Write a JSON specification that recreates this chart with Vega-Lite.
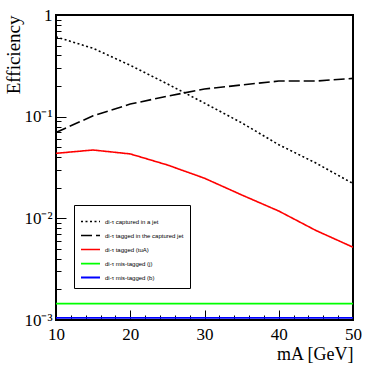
{
  "$schema": "https://vega.github.io/schema/vega-lite/v6.json",
  "width": 297,
  "height": 305,
  "autosize": "none",
  "padding": {"left": 56, "top": 15, "right": 20, "bottom": 54},
  "background": "white",
  "config": {
    "view": {"stroke": "black", "strokeWidth": 2},
    "font": "Liberation Serif"
  },
  "data": {
    "values": [
      {"m": 10, "eff": 0.61, "s": "di-τ captured in a jet"},
      {"m": 15, "eff": 0.47, "s": "di-τ captured in a jet"},
      {"m": 20, "eff": 0.32, "s": "di-τ captured in a jet"},
      {"m": 25, "eff": 0.21, "s": "di-τ captured in a jet"},
      {"m": 30, "eff": 0.136, "s": "di-τ captured in a jet"},
      {"m": 35, "eff": 0.087, "s": "di-τ captured in a jet"},
      {"m": 40, "eff": 0.053, "s": "di-τ captured in a jet"},
      {"m": 45, "eff": 0.035, "s": "di-τ captured in a jet"},
      {"m": 50, "eff": 0.022, "s": "di-τ captured in a jet"},
      {"m": 10, "eff": 0.070, "s": "di-τ tagged in the captured jet"},
      {"m": 15, "eff": 0.102, "s": "di-τ tagged in the captured jet"},
      {"m": 20, "eff": 0.133, "s": "di-τ tagged in the captured jet"},
      {"m": 25, "eff": 0.159, "s": "di-τ tagged in the captured jet"},
      {"m": 30, "eff": 0.187, "s": "di-τ tagged in the captured jet"},
      {"m": 35, "eff": 0.205, "s": "di-τ tagged in the captured jet"},
      {"m": 40, "eff": 0.224, "s": "di-τ tagged in the captured jet"},
      {"m": 45, "eff": 0.224, "s": "di-τ tagged in the captured jet"},
      {"m": 50, "eff": 0.238, "s": "di-τ tagged in the captured jet"},
      {"m": 10, "eff": 0.0436, "s": "di-τ tagged (tuA)"},
      {"m": 15, "eff": 0.047, "s": "di-τ tagged (tuA)"},
      {"m": 20, "eff": 0.043, "s": "di-τ tagged (tuA)"},
      {"m": 25, "eff": 0.0335, "s": "di-τ tagged (tuA)"},
      {"m": 30, "eff": 0.0248, "s": "di-τ tagged (tuA)"},
      {"m": 35, "eff": 0.017, "s": "di-τ tagged (tuA)"},
      {"m": 40, "eff": 0.0118, "s": "di-τ tagged (tuA)"},
      {"m": 45, "eff": 0.0076, "s": "di-τ tagged (tuA)"},
      {"m": 50, "eff": 0.0052, "s": "di-τ tagged (tuA)"},
      {"m": 10, "eff": 0.00145, "s": "di-τ mis-tagged (j)"},
      {"m": 50, "eff": 0.00145, "s": "di-τ mis-tagged (j)"},
      {"m": 10, "eff": 0.00105, "s": "di-τ mis-tagged (b)"},
      {"m": 50, "eff": 0.00105, "s": "di-τ mis-tagged (b)"}
    ]
  },
  "layer": [
    {
      "mark": {"type": "line", "strokeWidth": 1.6, "clip": true},
      "encoding": {
        "x": {
          "field": "m", "type": "quantitative",
          "scale": {"domain": [10, 50], "nice": false, "zero": false},
          "axis": {
            "orient": "bottom",
            "values": [10, 20, 30, 40, 50],
            "tickSize": -10, "tickColor": "black", "tickWidth": 1,
            "domain": false, "grid": false,
            "labelFont": "Liberation Serif", "labelFontSize": 17, "labelColor": "black",
            "labelPadding": 16, "labelFlush": false,
            "title": "mA [GeV]", "titleFont": "Liberation Serif", "titleFontSize": 18,
            "titleFontWeight": "normal", "titleColor": "black",
            "titleAnchor": "end", "titlePadding": 3
          }
        },
        "y": {
          "field": "eff", "type": "quantitative",
          "scale": {"type": "log", "domain": [0.001, 1], "nice": false},
          "axis": {
            "orient": "left",
            "values": [0.001, 0.01, 0.1, 1],
            "labelExpr": "datum.value >= 1 ? '1' : datum.value >= 0.1 ? '10⁻¹' : datum.value >= 0.01 ? '10⁻²' : '10⁻³'",
            "tickSize": -10, "tickColor": "black", "tickWidth": 1,
            "domain": false, "grid": false,
            "labelFont": "Liberation Serif", "labelFontSize": 17, "labelColor": "black",
            "labelPadding": 14, "labelFlush": false,
            "title": "Efficiency", "titleFont": "Liberation Serif", "titleFontSize": 19,
            "titleFontWeight": "normal", "titleColor": "black",
            "titleAnchor": "end", "titlePadding": 0
          }
        },
        "color": {
          "field": "s", "type": "nominal",
          "scale": {
            "domain": ["di-τ captured in a jet", "di-τ tagged in the captured jet", "di-τ tagged (tuA)", "di-τ mis-tagged (j)", "di-τ mis-tagged (b)"],
            "range": ["black", "black", "#ff0000", "#00ff00", "#0000ff"]
          },
          "legend": {
            "orient": "none", "legendX": 18, "legendY": 190,
            "title": null, "symbolType": "stroke", "symbolSize": 361,
            "symbolStrokeWidth": 2,
            "labelFont": "Liberation Sans", "labelFontSize": 6, "labelColor": "black",
            "rowPadding": -4.5, "padding": 6,
            "strokeColor": "black", "fillColor": "white",
            "labelLimit": 200
          }
        },
        "strokeDash": {
          "field": "s", "type": "nominal",
          "scale": {
            "domain": ["di-τ captured in a jet", "di-τ tagged in the captured jet", "di-τ tagged (tuA)", "di-τ mis-tagged (j)", "di-τ mis-tagged (b)"],
            "range": [[2, 2.5], [11, 4], [1, 0], [1, 0], [1, 0]]
          },
          "legend": null
        },
        "strokeWidth": {
          "field": "s", "type": "nominal",
          "scale": {
            "domain": ["di-τ captured in a jet", "di-τ tagged in the captured jet", "di-τ tagged (tuA)", "di-τ mis-tagged (j)", "di-τ mis-tagged (b)"],
            "range": [1.6, 1.8, 1.6, 2, 2]
          },
          "legend": null
        }
      }
    },
    {
      "mark": {"type": "line", "opacity": 0},
      "encoding": {
        "x": {
          "field": "m", "type": "quantitative",
          "scale": {"domain": [10, 50], "nice": false, "zero": false},
          "axis": {
            "orient": "bottom",
            "values": [12, 14, 16, 18, 22, 24, 26, 28, 32, 34, 36, 38, 42, 44, 46, 48],
            "tickSize": -5, "tickColor": "black", "tickWidth": 1,
            "domain": false, "grid": false, "labels": false, "title": null
          }
        },
        "y": {
          "field": "eff", "type": "quantitative",
          "scale": {"type": "log", "domain": [0.001, 1], "nice": false},
          "axis": {
            "orient": "left",
            "values": [0.002, 0.003, 0.004, 0.005, 0.006, 0.007, 0.008, 0.009, 0.02, 0.03, 0.04, 0.05, 0.06, 0.07, 0.08, 0.09, 0.2, 0.3, 0.4, 0.5, 0.6, 0.7, 0.8, 0.9],
            "tickSize": -5, "tickColor": "black", "tickWidth": 1,
            "domain": false, "grid": false, "labels": false, "title": null
          }
        }
      }
    }
  ],
  "resolve": {"axis": {"x": "independent", "y": "independent"}}
}
